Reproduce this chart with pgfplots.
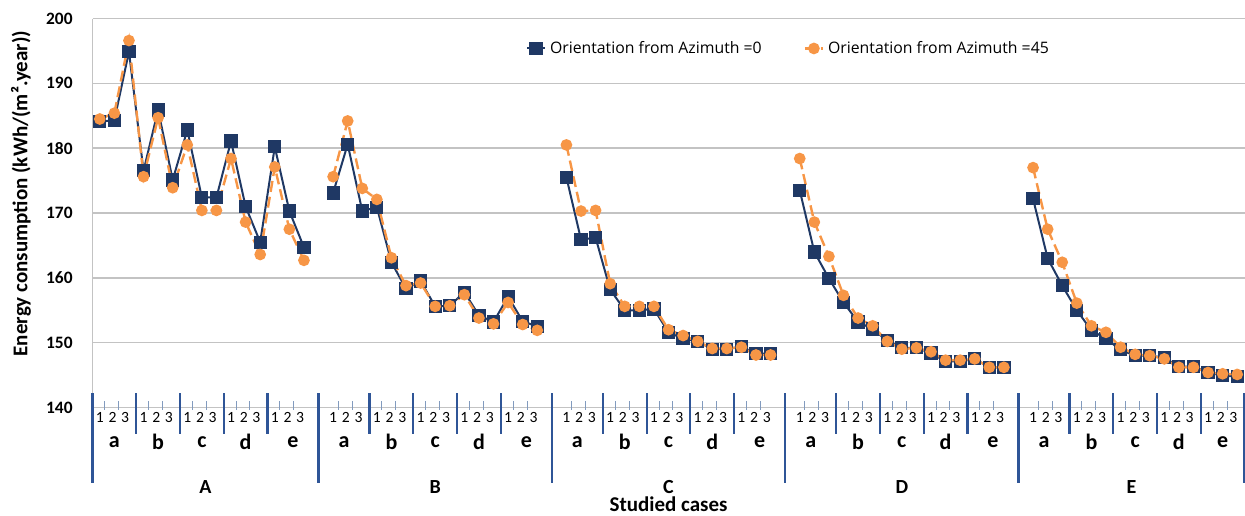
\documentclass[border=0pt]{standalone}
\usepackage{fontspec}
\setmainfont{Carlito}
\newfontfamily\legendfont{Open Sans}
\usepackage{pgfplots}
\pgfplotsset{compat=1.18}
\usepackage{pgfplotstable}
\definecolor{navy}{RGB}{31,56,100}
\definecolor{orng}{RGB}{247,150,70}
\definecolor{divblue}{RGB}{47,85,151}
\definecolor{gridgray}{RGB}{195,195,195}
\definecolor{tickblue}{RGB}{130,155,190}

\pgfplotstableread{
x blue orange
0 184.1 184.5
1 184.3 185.4
2 194.9 196.6
3 176.5 175.6
4 185.9 184.7
5 175.1 173.9
6 182.8 180.5
7 172.4 170.4
8 172.4 170.4
9 181.1 178.4
10 171.0 168.6
11 165.5 163.6
12 180.2 177.1
13 170.3 167.5
14 164.7 162.7
15 nan nan
16 173.1 175.6
17 180.6 184.2
18 170.3 173.8
19 170.9 172.1
20 162.4 163.1
21 158.3 158.8
22 159.5 159.2
23 155.6 155.6
24 155.7 155.7
25 157.8 157.4
26 154.2 153.8
27 153.2 152.9
28 157.1 156.2
29 153.3 152.8
30 152.5 151.9
31 nan nan
32 175.5 180.5
33 165.9 170.3
34 166.2 170.4
35 158.2 159.1
36 155.0 155.6
37 155.0 155.6
38 155.2 155.6
39 151.6 152.0
40 150.6 151.1
41 150.2 150.2
42 149.0 149.1
43 149.0 149.1
44 149.4 149.3
45 148.3 148.1
46 148.3 148.1
47 nan nan
48 173.5 178.4
49 164.0 168.6
50 159.9 163.3
51 156.2 157.3
52 153.2 153.8
53 152.1 152.6
54 150.3 150.2
55 149.2 149.0
56 149.2 149.2
57 148.4 148.6
58 147.1 147.3
59 147.1 147.3
60 147.5 147.5
61 146.2 146.2
62 146.2 146.2
63 nan nan
64 172.2 177.0
65 163.0 167.5
66 158.8 162.4
67 155.0 156.1
68 151.9 152.6
69 150.6 151.6
70 148.9 149.3
71 148.0 148.2
72 148.0 148.0
73 147.7 147.5
74 146.3 146.2
75 146.3 146.2
76 145.4 145.4
77 144.9 145.2
78 144.8 145.1
}\data

\begin{document}
\begin{tikzpicture}
\useasboundingbox (-46.25pt,-53.75pt) rectangle (576.25pt,203.75pt);
\begin{axis}[
  at={(0,0)}, anchor=south west, scale only axis,
  width=576pt, height=194.5pt,
  xmin=-0.5, xmax=78.5, ymin=140, ymax=200,
  ytick={140,150,...,200}, xtick=\empty,
  axis x line*=bottom, axis y line*=left,
  axis line style={gridgray, line width=0.8pt, -},
  ymajorgrids, grid style={gridgray, line width=0.7pt},
  major tick length=0pt,
  /pgf/number format/assume math mode=true,
  yticklabel style={font=\fontsize{8.7}{10}\selectfont\bfseries, inner sep=0pt, anchor=east, xshift=-9.75pt},
  ylabel={Energy consumption (kWh/(m².year))},
  ylabel style={at={([xshift=-35.75pt]rel axis cs:0,0.55)}, anchor=center, font=\fontsize{10.5}{12}\selectfont\bfseries},
  unbounded coords=jump, clip=false,
  legend style={at={(rel axis cs:0.376,0.923)}, anchor=west, draw=none, fill=none,
    font=\legendfont\fontsize{7.9}{9}\selectfont, inner sep=0pt,
    /tikz/every even column/.append style={column sep=19pt}},
  legend columns=2, legend cell align=left,
  legend image code/.code={\draw[mark repeat=2,mark phase=2,#1] plot coordinates {(0pt,0pt) (4.5pt,0pt) (9pt,0pt)};},
]
\addplot[navy, line width=1pt, mark=square*, mark size=2.8pt, mark options={solid, fill=navy}] table[x=x,y=blue]{\data};
\addplot[orng, line width=1.2pt, dash pattern=on 5.5pt off 2.5pt, mark=*, mark size=2.3pt, mark options={solid, fill=orng}] table[x=x,y=orange]{\data};
\legend{Orientation from Azimuth =0, Orientation from Azimuth =45}
\end{axis}
\begin{scope}[shift={(3.64557pt,203.75pt)}, x=7.29114pt, y=-0.5pt]
  \foreach \g in {0,...,4}{
    \foreach \s in {0,...,4}{
      \pgfmathsetmacro\b{16*\g+3*\s}
      \draw[tickblue, line width=0.5pt] (\b+0.35,401) -- (\b+0.35,410);
      \draw[tickblue, line width=0.5pt] (\b+1.3,401) -- (\b+1.3,410);
      \node[font=\fontsize{7.8}{9}\selectfont, inner sep=0pt] at (\b,417) {1};
      \node[font=\fontsize{7.8}{9}\selectfont, inner sep=0pt] at (\b+0.87,417) {2};
      \node[font=\fontsize{7.8}{9}\selectfont, inner sep=0pt] at (\b+1.74,417) {3};
    }
    \foreach \s in {1,...,4}{
      \draw[divblue, line width=1.1pt] (16*\g+3*\s-0.5,393) -- (16*\g+3*\s-0.5,434);
    }
  }
  \foreach \x in {-0.5,15,31,47,63,78.5}{
    \draw[divblue, line width=1.1pt] (\x,393) -- (\x,483);
  }
  \foreach \x/\t in {1/a,4/b,7/c,10/d,13.25/e,16.75/a,20/b,23/c,26/d,29.25/e,32.75/a,36/b,39/c,42/d,45.25/e,48.75/a,52/b,55/c,58/d,61.25/e,64.75/a,68/b,71/c,74/d,77/e}{
    \node[font=\fontsize{11}{13}\selectfont\bfseries, inner sep=0pt] at (\x,442) {\t};
  }
  \foreach \x/\t in {7.25/A,23/B,39/C,55/D,70.75/E}{
    \node[font=\fontsize{10}{12}\selectfont\bfseries, inner sep=0pt, anchor=base] at (\x,493) {\t};
  }
  \node[font=\fontsize{10.5}{12}\selectfont\bfseries, inner sep=0pt, anchor=base] at (39,511) {Studied cases};
\end{scope}
\end{tikzpicture}
\end{document}
